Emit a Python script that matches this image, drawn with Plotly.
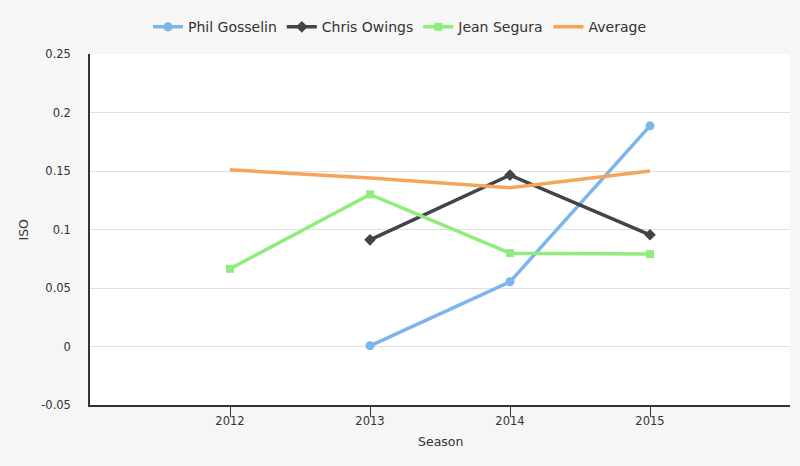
import plotly.graph_objects as go

seasons = [2012, 2013, 2014, 2015]
phil = [None, 0.0006, 0.0553, 0.1886]
chris = [None, 0.0912, 0.1465, 0.0955]
jean = [0.0664, 0.130, 0.0798, 0.079]
average = [0.151, 0.144, 0.1356, 0.150]

y_ticks = [-0.05, 0, 0.05, 0.1, 0.15, 0.2, 0.25]
y_labels = ["-0.05", "0", "0.05", "0.1", "0.15", "0.2", "0.25"]

font = "DejaVu Sans"

fig = go.Figure()
fig.add_trace(go.Scatter(x=seasons, y=phil, name="Phil Gosselin", mode="lines+markers",
                         line=dict(color="#7cb5ec", width=3.5),
                         marker=dict(symbol="circle", size=9, color="#7cb5ec")))
fig.add_trace(go.Scatter(x=seasons, y=chris, name="Chris Owings", mode="lines+markers",
                         line=dict(color="#434348", width=3.5),
                         marker=dict(symbol="diamond", size=9, color="#434348")))
fig.add_trace(go.Scatter(x=seasons, y=jean, name="Jean Segura", mode="lines+markers",
                         line=dict(color="#90ed7d", width=3.5),
                         marker=dict(symbol="square", size=8, color="#90ed7d")))
fig.add_trace(go.Scatter(x=seasons, y=average, name="Average", mode="lines",
                         line=dict(color="#f7a35c", width=3.5)))

fig.update_layout(
    width=800, height=466,
    margin=dict(l=90, r=10, t=54, b=61),
    paper_bgcolor="#f6f6f6",
    plot_bgcolor="#ffffff",
    font=dict(family=font, size=11, color="#333333"),
    showlegend=True,
    legend=dict(orientation="h", xref="container", x=0.5, xanchor="center",
                yref="container", y=0.976, yanchor="top",
                font=dict(size=14, color="#333333"),
                bgcolor="rgba(0,0,0,0)"),
    xaxis=dict(range=[2011, 2016], tickvals=seasons, ticktext=[str(s) for s in seasons],
               showgrid=False, zeroline=False, showline=True, linecolor="#333333", linewidth=2,
               ticks="outside", ticklen=10, tickcolor="#333333", tickwidth=1,
               ticklabelstandoff=-6,
               automargin=False, tickfont=dict(size=11.5, color="#333333")),
    yaxis=dict(range=[-0.05, 0.25], tickvals=y_ticks, ticktext=y_labels,
               showgrid=True, gridcolor="#e0e0e0", gridwidth=1, zeroline=False,
               showline=True, linecolor="#333333", linewidth=1.5,
               ticks="", ticklabelstandoff=15,
               automargin=False, tickfont=dict(size=11.5, color="#333333")),
    annotations=[
        dict(text="Season", xref="paper", yref="paper", x=0.5, y=0, yshift=-36,
             xanchor="center", yanchor="middle", showarrow=False,
             font=dict(size=12.5, color="#333333")),
        dict(text="ISO", xref="paper", yref="paper", x=0, y=0.5, xshift=-67,
             xanchor="center", yanchor="middle", textangle=-90, showarrow=False,
             font=dict(size=12.5, color="#333333")),
    ],
)

fig.write_html("out.html", config={"displayModeBar": False},
               post_script="document.body.style.margin='0';")
